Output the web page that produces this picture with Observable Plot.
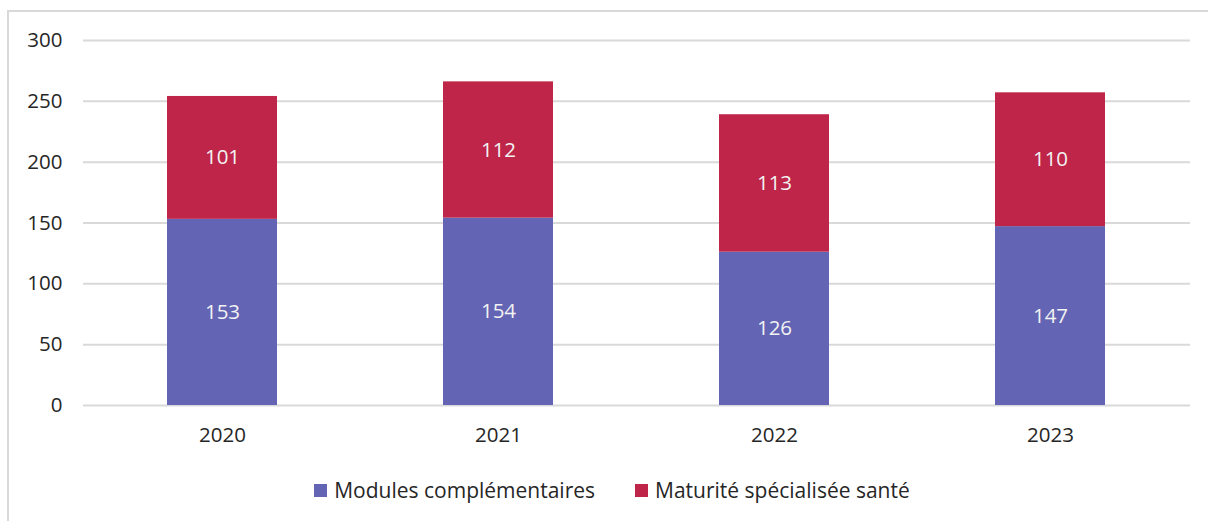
<!DOCTYPE html>
<html>
<head>
<meta charset="utf-8">
<script src="https://cdn.jsdelivr.net/npm/d3@7"></script>
<script src="https://cdn.jsdelivr.net/npm/@observablehq/plot@0.6"></script>
<style>
  html, body { margin: 0; padding: 0; background: #fff; }
  body { width: 1208px; height: 521px; position: relative; overflow: hidden; font-family: "Open Sans", "Noto Sans", sans-serif; }
  #frame { position: absolute; left: 7px; top: 10px; width: 1220px; height: 530px; border: 2px solid #d9d9d9; box-sizing: border-box; }
  #chart { position: absolute; left: 0; top: 0; }
  #legend { position: absolute; left: 0; top: 476px; width: 1208px; display: flex; justify-content: center; gap: 40px; font-size: 21px; color: #262626; padding-left: 16px; box-sizing: border-box; }
  .item { display: flex; align-items: center; gap: 7px; }
  .sw { width: 13px; height: 13px; display: inline-block; }
</style>
</head>
<body>
<div id="frame"></div>
<div id="chart"></div>
<div id="legend"></div>
<script>
const years = ["2020", "2021", "2022", "2023"];
const seriesNames = ["Modules complémentaires", "Maturité spécialisée santé"];
const modules = [153, 154, 126, 147];
const maturite = [101, 112, 113, 110];
const colors = ["#6464b4", "#be2549"];
const yTicks = [0, 50, 100, 150, 200, 250, 300];

const data = [];
years.forEach((y, i) => {
  data.push({year: y, series: seriesNames[0], value: modules[i]});
  data.push({year: y, series: seriesNames[1], value: maturite[i]});
});

const chart = Plot.plot({
  width: 1208,
  height: 460,
  marginLeft: 83,
  marginRight: 18,
  marginTop: 40,
  marginBottom: 55,
  style: { fontFamily: "'Open Sans', sans-serif", fontSize: "20.5px", color: "#262626", background: "transparent" },
  x: { domain: years, paddingInner: 0.6, paddingOuter: 0.3, label: null, tickSize: 0, tickPadding: 22 },
  y: { domain: [0, 300], ticks: yTicks, label: null, tickSize: 0, tickPadding: 21 },
  color: { domain: seriesNames, range: colors },
  marks: [
    Plot.gridY(yTicks, { stroke: "#d9d9d9", strokeWidth: 2, strokeOpacity: 1 }),
    Plot.barY(data, Plot.stackY({ x: "year", y: "value", fill: "series", order: seriesNames })),
    Plot.text(data, Plot.stackY({ x: "year", y: "value", z: "series", order: seriesNames, text: d => String(d.value), fill: "#f2f2f2", fontSize: 20.5 }))
  ]
});
document.getElementById("chart").appendChild(chart);

const legend = document.getElementById("legend");
seriesNames.forEach((name, i) => {
  const it = document.createElement("div");
  it.className = "item";
  const sw = document.createElement("span");
  sw.className = "sw";
  sw.style.background = colors[i];
  const t = document.createElement("span");
  t.textContent = name;
  it.appendChild(sw);
  it.appendChild(t);
  legend.appendChild(it);
});
</script>
</body>
</html>
